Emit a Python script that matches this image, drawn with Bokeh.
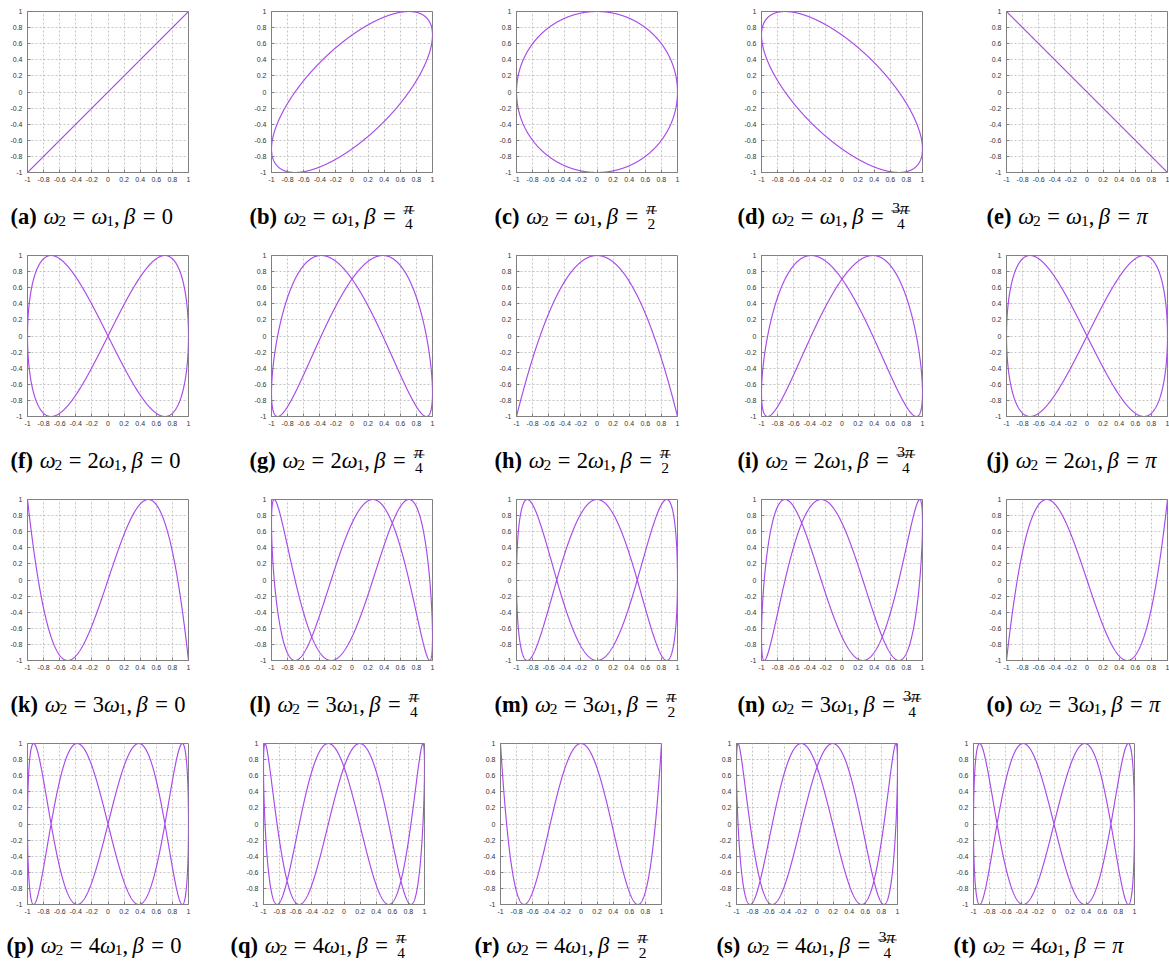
import numpy as np
from bokeh.plotting import figure
from bokeh.layouts import column, row
from bokeh.models import Range1d, FixedTicker
from bokeh.embed import file_html
from bokeh.resources import INLINE
from bokeh.core.properties import value

# ---- chart values ----
freq_ratios = [1, 2, 3, 4]                       # omega2 / omega1 per row
phase_values = [0.0, np.pi / 4, np.pi / 2, 3 * np.pi / 4, np.pi]   # beta per column
phase_labels = ["0", "π/4", "π/2", "3π/4", "π"]
panel_letters = list("abcdefghijklmnopqrst")
tick_values = [-1, -0.8, -0.6, -0.4, -0.2, 0, 0.2, 0.4, 0.6, 0.8, 1]
tick_labels = ["-1", "-0.8", "-0.6", "-0.4", "-0.2", "0", "0.2", "0.4", "0.6", "0.8", "1"]

LINE_COLOR = "#a848ea"
FRAME = 161
PAD = 8
ROW_WIDTHS = [243 + PAD, 244, 244, 244, 184]
LAST_ROW_WIDTHS = [235 + PAD, 236, 235, 236, 185]
CAP_X = [10, 249, 494, 737, 986]
LAST_CAP_X = [6, 230, 474, 716, 953]


def curve(n, beta):
    t = np.linspace(0, 2 * np.pi, 3001)
    y = np.sin(n * t + beta)
    y_mirror = np.sin(n * (np.pi - t) + beta)
    if np.allclose(y, y_mirror):
        # the path retraces itself: one pass covers it
        t = np.linspace(-np.pi / 2, np.pi / 2, 1501)
        y = np.sin(n * t + beta)
    return np.sin(t), y


def make_panel(n, beta, width, first_col, first_row):
    left = 19 + (PAD if first_col else 0)
    top = 3 + (PAD if first_row else 0)
    p = figure(frame_width=FRAME, frame_height=FRAME,
               x_range=Range1d(-1, 1), y_range=Range1d(-1, 1),
               output_backend="svg", toolbar_location=None,
               min_border_left=left, min_border_right=width - left - FRAME,
               min_border_top=top, min_border_bottom=18)
    for ax in (p.xaxis[0], p.yaxis[0]):
        ax.ticker = FixedTicker(ticks=tick_values)
        ax.major_label_overrides = {v: l for v, l in zip(tick_values, tick_labels)}
        ax.major_label_text_font = "Liberation Sans"
        ax.major_label_text_font_size = "7px"
        ax.major_label_text_color = "#333333"
        ax.axis_line_color = "#808080"
        ax.major_tick_line_color = "#808080"
        ax.major_tick_in = 3
        ax.major_tick_out = 0
        ax.minor_tick_line_color = None
    p.xaxis.major_label_standoff = 4
    p.yaxis.major_label_standoff = 5
    p.grid.grid_line_color = "#c4c4c4"
    p.grid.grid_line_dash = "2 2"
    p.grid.grid_line_width = 1
    p.outline_line_color = "#808080"
    p.outline_line_width = 1
    xs, ys = curve(n, beta)
    p.line(xs, ys, line_color=LINE_COLOR, line_width=1.15)
    return p


S = 22.5
s = 15.5
sp = 17.0
BOLD_W = dict(a=.5, b=.556, c=.444, d=.556, e=.444, f=.333, g=.5, h=.556, i=.278,
              j=.333, k=.556, l=.278, m=.833, n=.556, o=.5, p=.556, q=.556,
              r=.444, s=.389, t=.333)


def caption(cap, x0, yb, letter, n, k):
    g = cap["groups"]
    x = x0
    g["bold"].append((x, yb, "(" + letter + ")"))
    x += (0.666 + BOLD_W[letter]) * S + 0.3 * S
    g["ital"].append((x, yb, "ω")); x += 0.66 * S
    g["sub"].append((x, yb - 0.2 * S, "2")); x += 0.5 * s
    x += 0.28 * S
    g["reg"].append((x, yb, "=")); x += 0.564 * S + 0.28 * S
    if n > 1:
        g["reg"].append((x, yb, str(n))); x += 0.5 * S
    g["ital"].append((x, yb, "ω")); x += 0.66 * S
    g["sub"].append((x, yb - 0.2 * S, "1")); x += 0.5 * s
    g["reg"].append((x, yb, ",")); x += 0.25 * S + 0.2 * S
    g["ital"].append((x, yb, "β")); x += 0.55 * S
    x += 0.28 * S
    g["reg"].append((x, yb, "=")); x += 0.564 * S + 0.28 * S
    lab = phase_labels[k]
    if "/" in lab:
        num, den = lab.split("/")
        wn = 0.55 * sp + (0.5 * s if len(num) > 1 else 0)
        wd = 0.5 * s
        w = max(wn, wd) + 0.2 * S
        cx = x + w / 2
        bar_y = yb + 0.25 * S
        cap["bars"].append((x + 0.06 * S, x + w - 0.06 * S, bar_y))
        nx = cx - wn / 2
        if len(num) > 1:
            g["sub"].append((nx, bar_y + 0.12 * S, num[0])); nx += 0.5 * s
        g["subital"].append((nx, bar_y + 0.12 * S, "π"))
        g["sub"].append((cx - wd / 2, bar_y - 0.1 * S - 0.68 * s, den))
    elif lab == "π":
        g["ital"].append((x, yb, "π"))
    else:
        g["reg"].append((x, yb, lab))


def make_caption_fig(height, yb, row_idx, xs):
    cap = {"groups": {"bold": [], "ital": [], "reg": [], "sub": [], "subital": []},
           "bars": []}
    for c in range(5):
        idx = row_idx * 5 + c
        caption(cap, xs[c], yb, panel_letters[idx], freq_ratios[row_idx], c)
    p = figure(width=1167, height=height, x_range=Range1d(0, 1167),
               y_range=Range1d(0, height), x_axis_type=None, y_axis_type=None,
               output_backend="svg", toolbar_location=None,
               min_border_left=0, min_border_right=0, min_border_top=0,
               min_border_bottom=0)
    p.grid.visible = False
    p.outline_line_color = None
    styles = {"bold": ("bold", S), "ital": ("italic", S), "reg": ("normal", S),
              "sub": ("normal", s), "subital": ("italic", sp)}
    for key, (st, sz) in styles.items():
        items = cap["groups"][key]
        if not items:
            continue
        p.text(x=[i[0] for i in items], y=[i[1] for i in items],
               text=[i[2] for i in items],
               text_font=value("Liberation Serif"), text_font_size=value(f"{sz}px"),
               text_font_style=value(st), text_color="black",
               text_align="left", text_baseline="alphabetic")
    bars = cap["bars"]
    if bars:
        p.segment(x0=[b[0] for b in bars], x1=[b[1] for b in bars],
                  y0=[b[2] for b in bars], y1=[b[2] for b in bars],
                  line_color="black", line_width=0.8)
    return p


blocks = []
for r, n in enumerate(freq_ratios):
    last = r == len(freq_ratios) - 1
    widths = LAST_ROW_WIDTHS if last else ROW_WIDTHS
    panels = [make_panel(n, phase_values[c], widths[c], c == 0, r == 0) for c in range(5)]
    blocks.append(row(*panels, spacing=0))
    if last:
        blocks.append(make_caption_fig(42, 19, r, LAST_CAP_X))
    else:
        blocks.append(make_caption_fig(62, 36, r, CAP_X))

layout = column(*blocks, spacing=0)
open("out.html", "w").write(file_html(layout, INLINE))
